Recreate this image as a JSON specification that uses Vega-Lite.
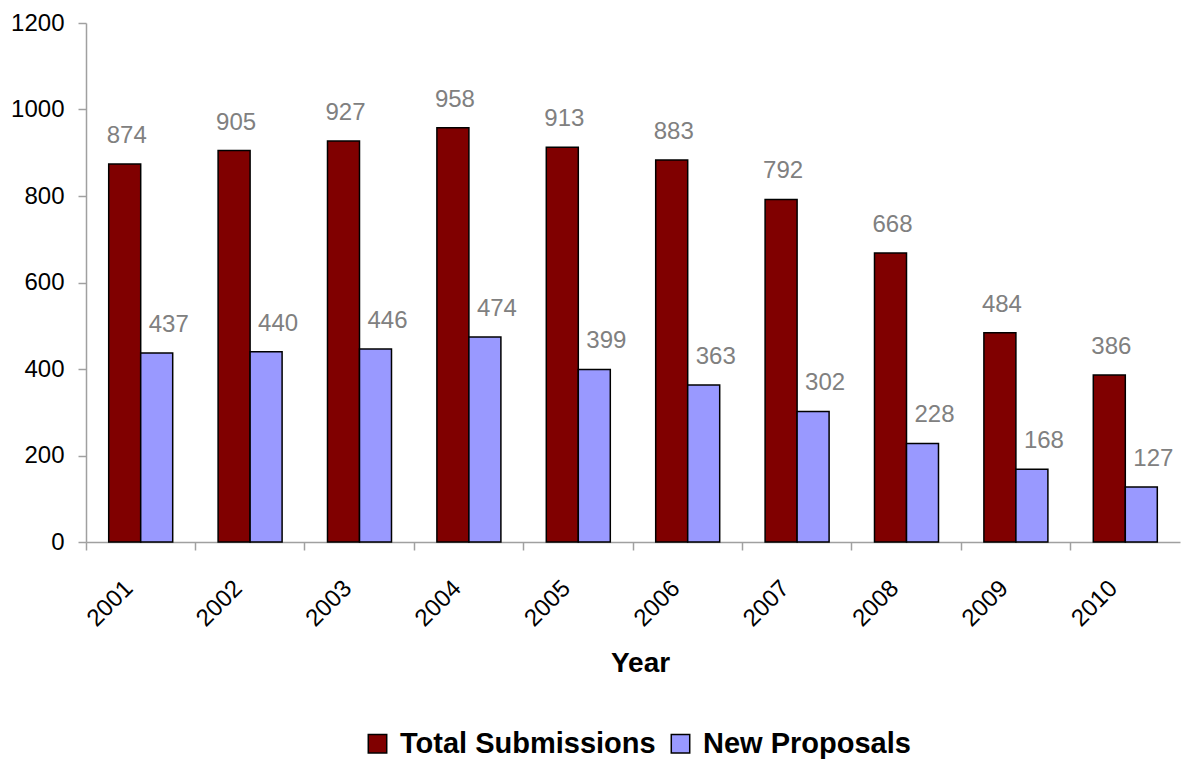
{
  "$schema": "https://vega.github.io/schema/vega-lite/v6.json",
  "width": 1094,
  "height": 519,
  "autosize": {"type": "none"},
  "padding": {"left": 86, "top": 23, "right": 7, "bottom": 217},
  "background": "white",
  "config": {"view": {"stroke": null}, "font": "Liberation Sans"},
  "data": {
    "values": [
      {"year": "2001", "series": "Total Submissions", "value": 874},
      {"year": "2002", "series": "Total Submissions", "value": 905},
      {"year": "2003", "series": "Total Submissions", "value": 927},
      {"year": "2004", "series": "Total Submissions", "value": 958},
      {"year": "2005", "series": "Total Submissions", "value": 913},
      {"year": "2006", "series": "Total Submissions", "value": 883},
      {"year": "2007", "series": "Total Submissions", "value": 792},
      {"year": "2008", "series": "Total Submissions", "value": 668},
      {"year": "2009", "series": "Total Submissions", "value": 484},
      {"year": "2010", "series": "Total Submissions", "value": 386},
      {"year": "2001", "series": "New Proposals", "value": 437},
      {"year": "2002", "series": "New Proposals", "value": 440},
      {"year": "2003", "series": "New Proposals", "value": 446},
      {"year": "2004", "series": "New Proposals", "value": 474},
      {"year": "2005", "series": "New Proposals", "value": 399},
      {"year": "2006", "series": "New Proposals", "value": 363},
      {"year": "2007", "series": "New Proposals", "value": 302},
      {"year": "2008", "series": "New Proposals", "value": 228},
      {"year": "2009", "series": "New Proposals", "value": 168},
      {"year": "2010", "series": "New Proposals", "value": 127}
    ]
  },
  "encoding": {
    "x": {
      "field": "year",
      "type": "nominal",
      "scale": {"paddingInner": 0.415, "paddingOuter": 0.2075},
      "axis": {
        "title": "Year",
        "titleFontSize": 28,
        "titleFontWeight": "bold",
        "titleColor": "black",
        "titlePadding": 19,
        "titleX": 554,
        "labelAngle": -45,
        "labelFontSize": 24,
        "labelColor": "black",
        "labelPadding": 26,
        "labelOffset": -20,
        "bandPosition": -0.3547,
        "domainColor": "#a0a0a0",
        "domainWidth": 1.5,
        "tickColor": "#a0a0a0",
        "tickWidth": 1.5,
        "tickSize": 8,
        "grid": false
      }
    },
    "xOffset": {"field": "series", "sort": ["Total Submissions", "New Proposals"]},
    "y": {
      "field": "value",
      "type": "quantitative",
      "scale": {"domain": [0, 1200]},
      "axis": {
        "title": null,
        "values": [0, 200, 400, 600, 800, 1000, 1200],
        "format": "d",
        "labelFontSize": 24,
        "labelColor": "black",
        "labelPadding": 14,
        "domainColor": "#a0a0a0",
        "domainWidth": 1.5,
        "tickColor": "#a0a0a0",
        "tickWidth": 1.5,
        "tickSize": 8,
        "grid": false
      }
    }
  },
  "layer": [
    {
      "mark": {"type": "bar", "stroke": "black", "strokeWidth": 1.5},
      "encoding": {
        "color": {
          "field": "series",
          "type": "nominal",
          "sort": ["Total Submissions", "New Proposals"],
          "scale": {"domain": ["Total Submissions", "New Proposals"], "range": ["#800000", "#9999ff"]},
          "legend": {
            "title": null,
            "orient": "none",
            "legendX": 277,
            "legendY": 706,
            "direction": "horizontal",
            "symbolType": "square",
            "symbolSize": 340,
            "symbolStrokeColor": "black",
            "symbolStrokeWidth": 1.5,
            "symbolOpacity": 1,
            "labelFontSize": 29,
            "labelFontWeight": "bold",
            "labelColor": "black",
            "labelOffset": 8,
            "labelLimit": 0,
            "columnPadding": 10
          }
        }
      }
    },
    {
      "transform": [{"filter": "datum.series === 'Total Submissions'"}],
      "mark": {"type": "text", "fontSize": 24, "color": "#808080", "baseline": "alphabetic", "dy": -21, "dx": 2},
      "encoding": {"text": {"field": "value", "type": "quantitative"}}
    },
    {
      "transform": [{"filter": "datum.series === 'New Proposals'"}],
      "mark": {"type": "text", "fontSize": 24, "color": "#808080", "baseline": "alphabetic", "dy": -21, "dx": 12},
      "encoding": {"text": {"field": "value", "type": "quantitative"}}
    }
  ]
}
